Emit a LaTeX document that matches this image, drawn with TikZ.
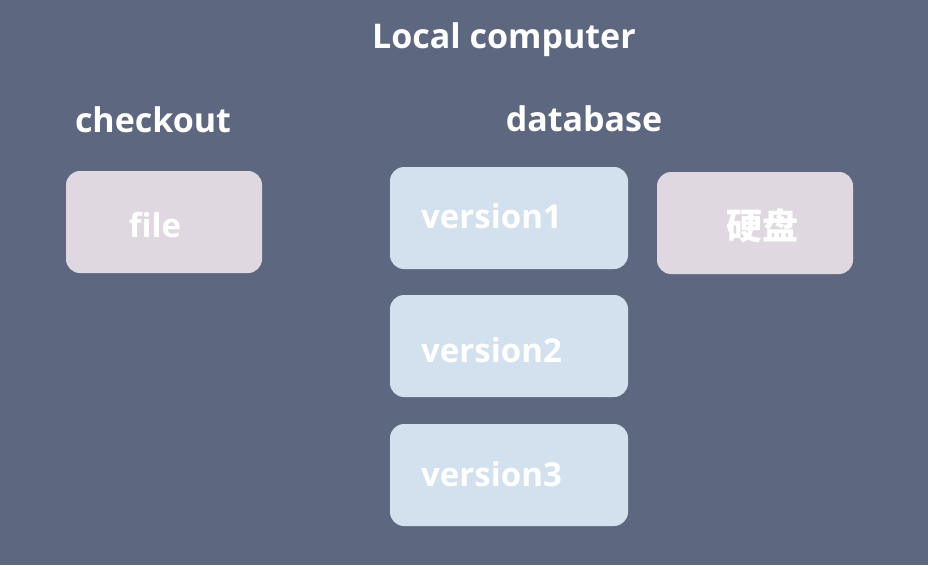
\documentclass[tikz,border=0pt]{standalone}
\usepackage{fontspec}
\setmainfont{Open Sans}
\newfontfamily\cjk{Noto Sans CJK SC}
\definecolor{bg}{HTML}{5D6880}
\definecolor{pinkbox}{HTML}{DFD8E0}
\definecolor{bluebox}{HTML}{D3E1EE}
\tikzset{
  box/.style={rounded corners=14pt},
  lbl/.style={text=white, font=\bfseries\fontsize{34}{40}\selectfont, inner sep=0pt},
  boxtxt/.style={text=white, font=\bfseries\fontsize{33}{38}\selectfont, inner sep=0pt},
}
\begin{document}
\begin{tikzpicture}[x=1pt,y=-1pt]
\fill[bg] (0,0) rectangle (928,565);
\useasboundingbox (0,0) rectangle (928,565);
\node[lbl] (title) at (504,40) {Local computer};
\node[lbl] (checkout) at (153,120) {checkout};
\node[lbl] (database) at (584,119) {database};
\fill[pinkbox,box] (66,171) rectangle (262,273);
\node[boxtxt] (file) at (155,225) {file};
\fill[bluebox,box] (390,167) rectangle (628,269);
\node[boxtxt,anchor=west] (v1) at (421,216) {version1};
\fill[bluebox,box] (390,295) rectangle (628,397);
\node[boxtxt,anchor=west] (v2) at (421,350) {version2};
\fill[bluebox,box] (390,424) rectangle (628,526);
\node[boxtxt,anchor=west] (v3) at (421,474) {version3};
\fill[pinkbox,box] (657,172) rectangle (853,274);
\node[boxtxt,font=\cjk\bfseries\fontsize{36}{40}\selectfont] (disk) at (762,226) {硬盘};
\end{tikzpicture}
\end{document}
